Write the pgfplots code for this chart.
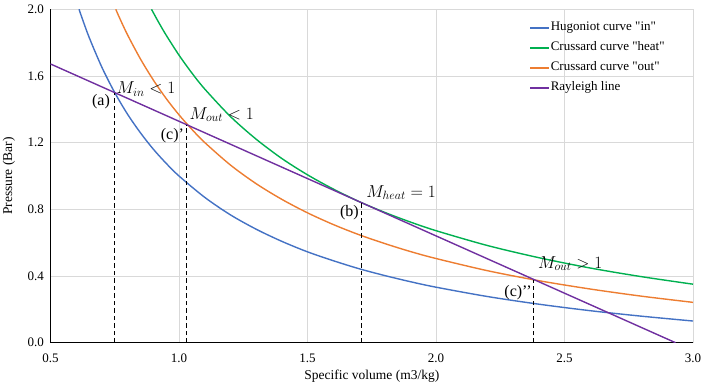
\documentclass[border=0pt]{standalone}
\usepackage{pgfplots}
\pgfplotsset{compat=1.18}
\usepackage{fontspec}
\setmainfont{Liberation Serif}

\definecolor{hugblue}{HTML}{4472C4}
\definecolor{heatgreen}{HTML}{00B050}
\definecolor{outorange}{HTML}{ED7D31}
\definecolor{raypurple}{HTML}{7030A0}
\definecolor{gridgray}{HTML}{D9D9D9}

\begin{document}
\begin{tikzpicture}
\path[use as bounding box] (0,0) rectangle (706pt,390pt);
\begin{axis}[
    at={(50.5pt,47.3pt)}, anchor=south west,
    scale only axis,
    width=642.5pt, height=333.4pt,
    xmin=0.5, xmax=3.0,
    ymin=0, ymax=2.0,
    xtick={0.5,1.0,1.5,2.0,2.5,3.0},
    ytick={0,0.4,0.8,1.2,1.6,2.0},
    major tick length=0pt,
    axis x line=bottom, axis y line=left,
    axis line style={black, line width=0.9pt, -},
    xmajorgrids=true, ymajorgrids=true,
    grid style={gridgray, line width=0.8pt},
    /pgf/number format/assume math mode=true,
    /pgf/number format/.cd, fixed, fixed zerofill, precision=1, /pgfplots/.cd,
    tick label style={font=\fontsize{13}{15}\selectfont},
    xticklabel style={anchor=base, yshift=-19.5pt},
    yticklabel style={xshift=-3pt},
    xlabel={Specific volume (m3/kg)},
    ylabel={Pressure (Bar)},
    label style={font=\fontsize{13.5}{15}\selectfont},
    xlabel style={at={(axis description cs:0.5,0)}, anchor=center, yshift=-34pt},
    ylabel style={at={(axis description cs:-0.0646,0.5)}, anchor=center},
    legend style={at={(rel axis cs:0.745,0.963)}, anchor=north west,
        draw=none, fill=none, font=\fontsize{13}{15}\selectfont,
        row sep=8pt, column sep=1pt, inner sep=0pt,
        nodes={inner sep=0pt, text height=9pt, text depth=3pt}},
    legend cell align=left,
    legend image code/.code={\draw[#1] (0pt,0pt) -- (19pt,0pt);},
]
\addplot[hugblue, line width=1.4pt, smooth, forget plot] coordinates {
(0.611,2.000) (0.62,1.960) (0.65,1.833) (0.70,1.652) (0.75,1.500)
(0.80,1.370) (0.85,1.259) (0.90,1.161) (0.95,1.076) (1.00,1.000)
(1.10,0.872) (1.20,0.767) (1.30,0.681) (1.40,0.608) (1.50,0.545)
(1.60,0.492) (1.70,0.444) (1.80,0.403) (1.90,0.366) (2.00,0.333)
(2.20,0.277) (2.40,0.231) (2.60,0.192) (2.80,0.159) (3.00,0.130)
};
\addplot[heatgreen, line width=1.4pt, smooth, forget plot] coordinates {
(0.893,2.000) (0.92,1.924) (0.95,1.845) (1.00,1.725) (1.05,1.618)
(1.10,1.522) (1.20,1.357) (1.30,1.221) (1.40,1.105) (1.50,1.007)
(1.60,0.922) (1.70,0.847) (1.80,0.782) (1.90,0.724) (2.00,0.672)
(2.20,0.583) (2.40,0.510) (2.60,0.448) (2.80,0.396) (3.00,0.351)
};
\addplot[outorange, line width=1.4pt, smooth, forget plot] coordinates {
(0.754,2.000) (0.77,1.944) (0.80,1.846) (0.85,1.702) (0.90,1.576)
(0.95,1.465) (1.00,1.367) (1.05,1.280) (1.10,1.201) (1.20,1.066)
(1.30,0.954) (1.40,0.860) (1.50,0.779) (1.60,0.709) (1.70,0.648)
(1.80,0.595) (1.90,0.547) (2.00,0.505) (2.20,0.432) (2.40,0.372)
(2.60,0.322) (2.80,0.279) (3.00,0.242)
};
\addplot[raypurple, line width=1.4pt, forget plot] coordinates {
(0.5,1.672) (2.932,0.0)
};

\addlegendimage{hugblue, line width=1.4pt}
\addlegendentry{Hugoniot curve \textquotedbl in\textquotedbl}
\addlegendimage{heatgreen, line width=1.4pt}
\addlegendentry{Crussard curve \textquotedbl heat\textquotedbl}
\addlegendimage{outorange, line width=1.4pt}
\addlegendentry{Crussard curve \textquotedbl out\textquotedbl}
\addlegendimage{raypurple, line width=1.4pt}
\addlegendentry{Rayleigh line}

% vertical markers of the states
\addplot[black, line width=1.2pt, dash pattern=on 4.5pt off 3pt, forget plot] coordinates {(0.75,0) (0.75,1.500)};
\addplot[black, line width=1.2pt, dash pattern=on 4.5pt off 3pt, forget plot] coordinates {(1.03,0) (1.03,1.307)};
\addplot[black, line width=1.2pt, dash pattern=on 4.5pt off 3pt, forget plot] coordinates {(1.71,0) (1.71,0.840)};
\addplot[black, line width=1.2pt, dash pattern=on 4.5pt off 3pt, forget plot] coordinates {(2.38,0) (2.38,0.379)};

\node[anchor=base west, inner sep=0pt, font=\fontsize{16.5}{18}\selectfont] at (axis cs:0.757,1.492) {$M_{in} < 1$};
\node[anchor=base east, inner sep=0pt, font=\fontsize{16}{18}\selectfont] at (axis cs:0.732,1.420) {(a)};
\node[anchor=base west, inner sep=0pt, font=\fontsize{16.5}{18}\selectfont] at (axis cs:1.041,1.340) {$M_{out} < 1$};
\node[anchor=base east, inner sep=0pt, font=\fontsize{16}{18}\selectfont] at (axis cs:1.020,1.216) {(c)’};
\node[anchor=base west, inner sep=0pt, font=\fontsize{16.5}{18}\selectfont] at (axis cs:1.728,0.872) {$M_{heat} = 1$};
\node[anchor=base east, inner sep=0pt, font=\fontsize{16}{18}\selectfont] at (axis cs:1.700,0.760) {(b)};
\node[anchor=base west, inner sep=0pt, font=\fontsize{16.5}{18}\selectfont] at (axis cs:2.397,0.446) {$M_{out} > 1$};
\node[anchor=base east, inner sep=0pt, font=\fontsize{16}{18}\selectfont] at (axis cs:2.373,0.276) {(c)’’};
\end{axis}
\end{tikzpicture}
\end{document}
